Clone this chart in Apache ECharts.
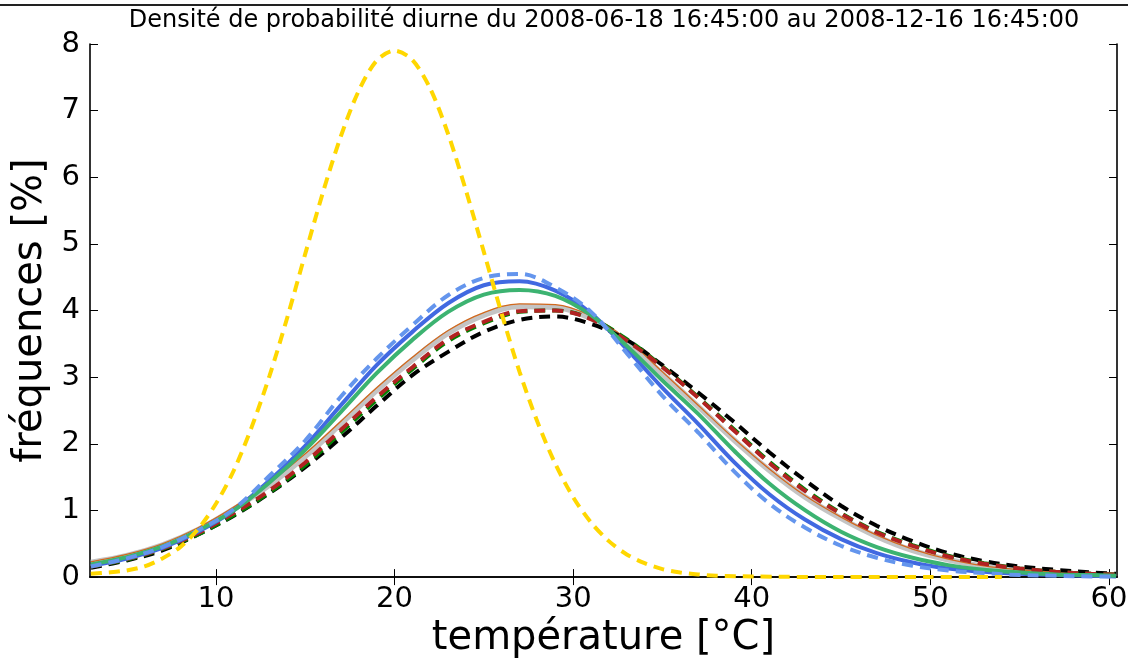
<!DOCTYPE html>
<html>
<head>
<meta charset="utf-8">
<script src="https://cdn.jsdelivr.net/npm/echarts@6/dist/echarts.min.js"></script>
<style>
html,body{margin:0;padding:0;background:#fff;}
#chart{width:1133px;height:664px;}
</style>
</head>
<body>
<div id="chart"></div>
<script>
// ---- data ----
const titleText = "Densité de probabilité diurne du 2008-06-18 16:45:00 au 2008-12-16 16:45:00";
const xTickValues = [10, 20, 30, 40, 50, 60];

const temps = [3,5,7,9,11,13,15,17,19,21,23,25,27,29,31,33,35,37,39,41,43,45,47,49,51,53,55,57,59,60.4];

const grayThick   = [0.22,0.32,0.48,0.71,1.02,1.38,1.81,2.30,2.80,3.26,3.66,3.93,4.06,4.05,3.88,3.53,3.05,2.56,2.06,1.60,1.20,0.88,0.61,0.40,0.26,0.16,0.10,0.06,0.04,0.03];
const orangeThin  = [0.23,0.34,0.50,0.74,1.05,1.42,1.85,2.34,2.84,3.30,3.70,3.97,4.10,4.09,3.92,3.57,3.08,2.58,2.08,1.62,1.22,0.90,0.63,0.42,0.27,0.17,0.11,0.07,0.04,0.03];
const blackDashed = [0.14,0.25,0.40,0.64,0.92,1.26,1.65,2.09,2.57,3.03,3.38,3.68,3.86,3.91,3.80,3.56,3.18,2.77,2.33,1.87,1.45,1.07,0.77,0.54,0.36,0.24,0.16,0.11,0.07,0.05];
const greenDashed = [0.16,0.26,0.42,0.64,0.93,1.27,1.68,2.17,2.66,3.12,3.54,3.81,3.98,4.00,3.88,3.57,3.16,2.70,2.22,1.73,1.31,0.96,0.68,0.48,0.32,0.21,0.13,0.08,0.05,0.04];
const redDashed   = [0.16,0.27,0.43,0.66,0.96,1.30,1.72,2.21,2.70,3.15,3.57,3.83,3.99,4.00,3.87,3.55,3.15,2.69,2.20,1.71,1.29,0.95,0.67,0.47,0.31,0.20,0.13,0.08,0.05,0.04];
const lightBlueDashed = [0.16,0.28,0.45,0.70,1.02,1.52,2.05,2.71,3.28,3.78,4.23,4.49,4.55,4.35,3.98,3.36,2.72,2.17,1.59,1.10,0.74,0.47,0.29,0.17,0.10,0.06,0.03,0.02,0.01,0.01];
const blueSolid   = [0.17,0.28,0.44,0.68,1.00,1.45,1.97,2.58,3.18,3.68,4.11,4.38,4.44,4.30,3.96,3.42,2.84,2.30,1.73,1.24,0.86,0.57,0.36,0.22,0.13,0.08,0.05,0.03,0.02,0.01];
const greenSolid  = [0.19,0.30,0.46,0.70,1.00,1.42,1.91,2.48,3.06,3.56,3.98,4.24,4.31,4.22,3.93,3.47,2.95,2.45,1.90,1.40,1.00,0.68,0.45,0.29,0.18,0.11,0.07,0.04,0.03,0.02];

const yellowTemps = [3,4,5,6,7,8,9,10,11,12,13,14,15,16,17,18,19,20,21,22,23,24,25,26,27,28,29,30,31,32,33,34,35,36,37,38,40,45,50,54];
const yellowDashed = [0.05,0.07,0.10,0.16,0.28,0.45,0.72,1.10,1.60,2.25,3.02,3.90,4.85,5.78,6.62,7.30,7.75,7.90,7.76,7.33,6.65,5.80,4.88,3.95,3.08,2.33,1.70,1.20,0.82,0.54,0.34,0.21,0.12,0.07,0.04,0.02,0.01,0.00,0.00,0.00];

// ---- chart ----
const FONT = "DejaVu Sans";
const XMIN = 2.95, XMAX = 60.45;

function pairs(xs, ys){ return xs.map((x,i)=>[x, ys[i]]); }

function lineSeries(name, xs, ys, color, width, dash, smooth){
  return {
    name: name, type: 'line', data: pairs(xs, ys),
    showSymbol: false, symbol: 'none', smooth: smooth === undefined ? 0.35 : smooth,
    lineStyle: { color: color, width: width, type: dash ? dash : 'solid', cap: 'butt' },
    emphasis: { disabled: true }, silent: true,
    xAxisIndex: 0, yAxisIndex: 0
  };
}

const axisLineStyle = { show: true, lineStyle: { color: '#000', width: 1.6 } };

const option = {
  animation: false,
  backgroundColor: '#fff',
  grid: { left: 90, right: 16, top: 44, bottom: 82, containLabel: false },
  xAxis: [
    {
      type: 'value', position: 'bottom', min: XMIN, max: XMAX,
      axisLine: axisLineStyle,
      axisTick: { show: true, inside: true, length: 8, customValues: xTickValues, lineStyle: { color: '#000', width: 1 } },
      axisLabel: { customValues: xTickValues, fontSize: 29, color: '#000', fontFamily: FONT, margin: 8 },
      splitLine: { show: false },
      name: 'température [°C]', nameLocation: 'middle', nameGap: 36,
      nameTextStyle: { fontSize: 40, color: '#000', fontFamily: FONT }
    },
    {
      type: 'value', position: 'top', min: XMIN, max: XMAX,
      axisLine: axisLineStyle,
      axisTick: { show: true, inside: true, length: 8, customValues: xTickValues, lineStyle: { color: '#000', width: 1 } },
      axisLabel: { show: false },
      splitLine: { show: false }
    }
  ],
  yAxis: [
    {
      type: 'value', position: 'left', min: 0, max: 8, interval: 1,
      axisLine: axisLineStyle,
      axisTick: { show: true, inside: true, length: 8, lineStyle: { color: '#000', width: 1 } },
      axisLabel: { fontSize: 29, color: '#000', fontFamily: FONT, margin: 10 },
      splitLine: { show: false },
      name: 'fréquences [%]', nameLocation: 'middle', nameGap: 32,
      nameTextStyle: { fontSize: 40, color: '#000', fontFamily: FONT }
    },
    {
      type: 'value', position: 'right', min: 0, max: 8, interval: 1,
      axisLine: axisLineStyle,
      axisTick: { show: true, inside: true, length: 8, lineStyle: { color: '#000', width: 1 } },
      axisLabel: { show: false },
      splitLine: { show: false }
    }
  ],
  graphic: [
    { type: 'line', shape: { x1: 0, y1: 5, x2: 1128, y2: 5 }, style: { stroke: '#222', lineWidth: 2 }, silent: true },
    { type: 'text', x: 604, y: 21, style: { text: titleText, font: '24px "DejaVu Sans"', fill: '#000', textAlign: 'center', textVerticalAlign: 'middle' }, silent: true }
  ],
  series: [
    lineSeries('gris', temps, grayThick, '#c4c4c4', 5.5),
    lineSeries('orange', temps, orangeThin, '#d2691e', 1.3),
    lineSeries('noir', temps, blackDashed, '#000000', 4, [11, 7]),
    lineSeries('vert pointillé', temps, greenDashed, '#008000', 4, [11, 7]),
    lineSeries('rouge', temps, redDashed, '#b22222', 4, [11, 7]),
    lineSeries('bleu', temps, blueSolid, '#4169e1', 4),
    lineSeries('vert', temps, greenSolid, '#3cb371', 4),
    lineSeries('bleu clair', temps, lightBlueDashed, '#6495ed', 4, [11, 7]),
    lineSeries('jaune', yellowTemps, yellowDashed, '#ffd700', 4, [11, 7], 0.3)
  ]
};

const chart = echarts.init(document.getElementById('chart'), null, { renderer: 'canvas' });
chart.setOption(option);
</script>
</body>
</html>
